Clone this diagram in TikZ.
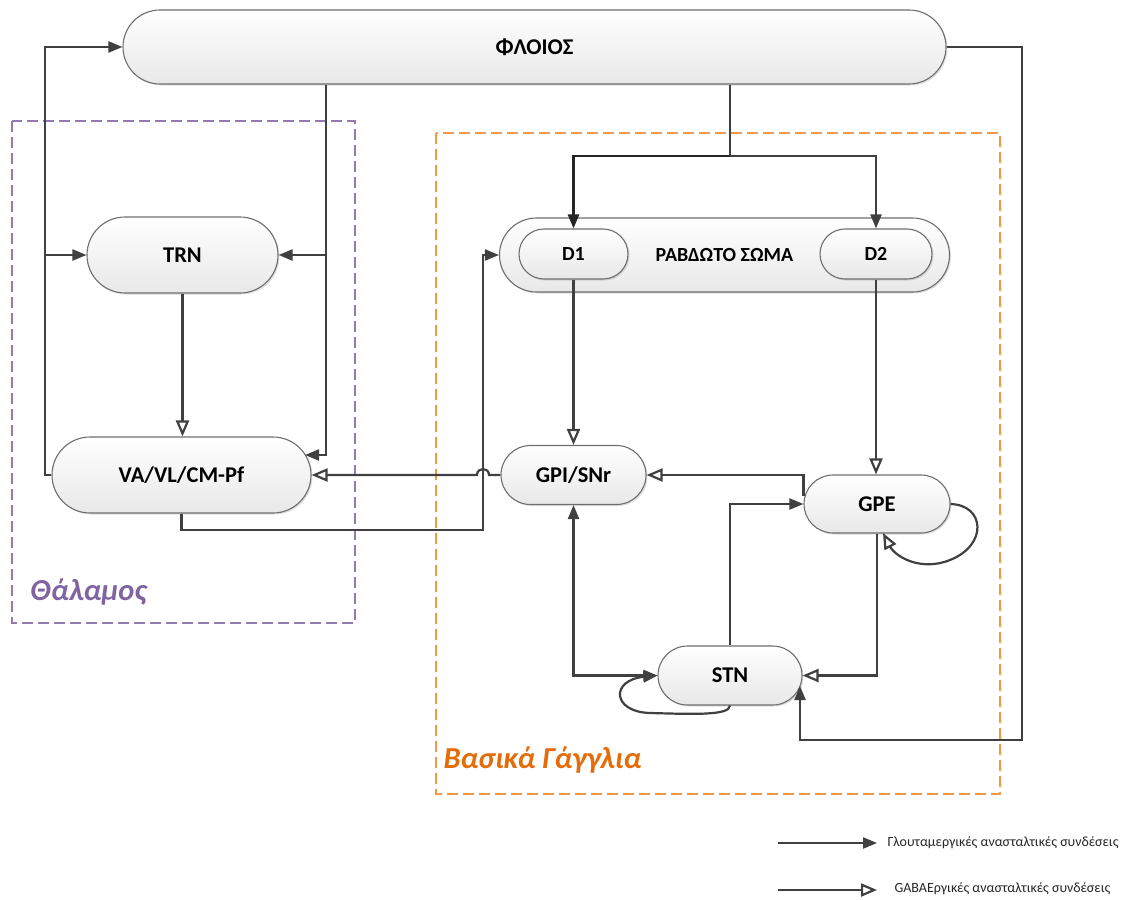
\documentclass[tikz,border=0pt]{standalone}
\usepackage{fontspec}
\setmainfont{Carlito}
\usetikzlibrary{arrows.meta,shadows,calc}

\definecolor{linec}{HTML}{404040}
\definecolor{edgec}{HTML}{6E6E6E}
\definecolor{thalc}{HTML}{8064A2}
\definecolor{bgtext}{HTML}{E46C0A}
\definecolor{bgbox}{HTML}{F79646}

\tikzset{
  pill/.style n args={3}{draw=edgec, line width=1.1pt, top color=white, bottom color=black!9,
    minimum width=#1, minimum height=#2, rounded corners=#3, inner sep=0pt,
    drop shadow={shadow xshift=1.5pt, shadow yshift=-1.5pt, opacity=0.25},
    font=\fontsize{22.5}{26}\selectfont\bfseries},
  smallpill/.style={font=\fontsize{20}{24}\selectfont\bfseries},
  glu/.style={draw=linec, line width=2.2pt, -{Triangle[length=14pt,width=11pt]}},
  glubold/.style={draw=black!85, line width=2.7pt, -{Triangle[length=14pt,width=11pt]}},
  glutwo/.style={draw=linec, line width=2.2pt, {Triangle[length=14pt,width=11pt]}-{Triangle[length=14pt,width=11pt]}},
  gaba/.style={draw=linec, line width=2.2pt, -{Triangle[length=16pt,width=13pt,fill=white]}},
  region/.style={line width=1.8pt, dash pattern=on 11pt off 5pt},
  regionlabel/.style={font=\fontsize{30.5}{34}\selectfont\bfseries\itshape, anchor=west},
  legendtext/.style={font=\fontsize{14}{16}\selectfont, anchor=west, text=black!85}
}

\begin{document}
\begin{tikzpicture}[x=1pt,y=-1pt]
\useasboundingbox (0,0) rectangle (1121,899);

% regions
\draw[region, draw=thalc!85] (12,121) rectangle (355,623);
\draw[region, draw=bgbox] (436,133) rectangle (1000,794);
\node[regionlabel, text=thalc] (thal) at (27,592) {Θάλαμος};
\node[regionlabel, text=bgtext] (bg) at (440,760) {Βασικά Γάγγλια};

% nuclei
\node[pill={823pt}{74pt}{37pt}] (FL) at (534.5,47) {ΦΛΟΙΟΣ};
\node[pill={191pt}{76pt}{38pt}] (TRN) at (182.5,255) {TRN};
\node[pill={259pt}{76pt}{38pt}] (VA) at (181.5,475) {VA/VL/CM-Pf};
\node[pill={450pt}{74pt}{37pt}, smallpill] (STR) at (724.5,255) {ΡΑΒΔΩΤΟ ΣΩΜΑ};
\node[pill={109pt}{50pt}{25pt}, smallpill] (D1) at (573.5,254) {D1};
\node[pill={112pt}{50pt}{25pt}, smallpill] (D2) at (876,254) {D2};
\node[pill={145pt}{59pt}{29.5pt}] (GPI) at (573.5,475) {GPI/SNr};
\node[pill={146pt}{58pt}{29pt}] (GPE) at (877,504) {GPE};
\node[pill={144pt}{59pt}{29.5pt}] (STN) at (730,675.5) {STN};

% routing points
\coordinate (lv) at (45,0);
\coordinate (rv) at (326,0);
\coordinate (VAin) at (305,455);
\coordinate (vx) at (483,530);
\coordinate (hopR) at (489,475);
\coordinate (hopL) at (477,475);
\coordinate (sp) at (730,156);
\coordinate (cr) at (1022,740);
\coordinate (stnIn) at (800,686);
\coordinate (gpeB) at (883,533);

% thalamus loops
\draw[glu] (VA.west) -| (lv |- FL.west) -- (FL.west);
\draw[glu] (lv |- TRN.west) -- (TRN.west);
\draw[glu] (rv |- FL.south) -- (rv |- VAin) -- (VAin);
\draw[glu] (rv |- TRN.east) -- (TRN.east);
\draw[gaba] (TRN.south) -- (TRN.south |- VA.north);
\draw[gaba] (GPI.west) -- (hopR) .. controls (489,467) and (477,467) .. (hopL) -- (VA.east);
\draw[glu] (VA.south) |- (vx) |- (STR.west);

% cortex to striatum
\draw[draw=linec, line width=2.2pt] (sp |- FL.south) -- (sp);
\draw[glubold] (sp) -| (D1.north);
\draw[glu] (sp) -| (D2.north);

% basal ganglia
\draw[gaba] (D1.south) -- (GPI.north);
\draw[gaba] (D2.south) -- (D2.south |- GPE.north);
\draw[gaba] ($(GPE.west)+(0,-8)$) |- (GPI.east);
\draw[glu] (STN.north) |- (GPE.west);
\draw[glutwo] (GPI.south) |- (STN.west);
\draw[gaba] (GPE.south) |- (STN.east);
\draw[glu] (FL.east) -| (cr) -| (stnIn);

% self connections
\draw[gaba] (GPE.east) .. controls (985,505) and (988,545) .. (950,560)
  .. controls (920,572) and (895,556) .. (gpeB);
\draw[glu] (STN.south) .. controls (730,716) and (690,714) .. (650,713)
  .. controls (612,712) and (610,680) .. (STN.west);

% legend
\coordinate (la) at (778,843);
\coordinate (lb) at (877,843);
\coordinate (lc) at (778,890);
\coordinate (ld) at (877,890);
\draw[glu] (la) -- (lb);
\draw[gaba] (lc) -- (ld);
\node[legendtext] (lt1) at (884,843) {Γλουταμεργικές ανασταλτικές συνδέσεις};
\node[legendtext] (lt2) at (891,889) {GABAΕργικές ανασταλτικές συνδέσεις};
\end{tikzpicture}
\end{document}
